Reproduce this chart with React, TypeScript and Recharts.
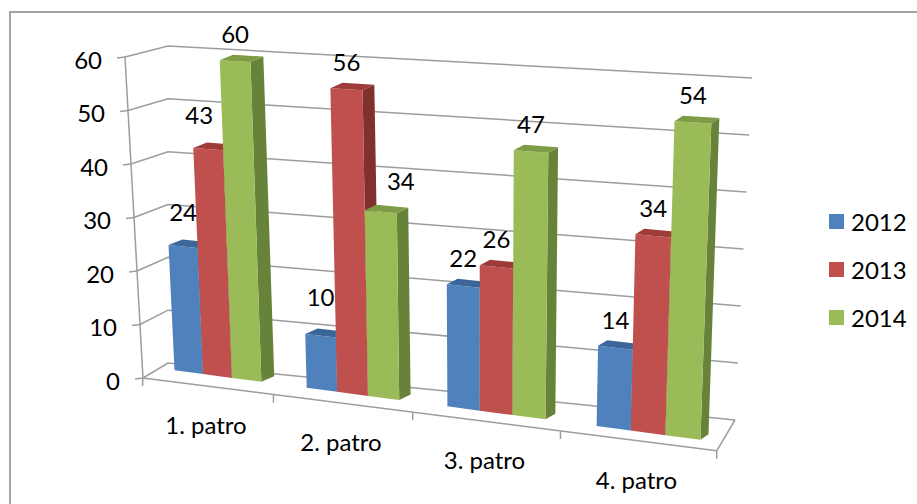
import { BarChart, Bar, XAxis, YAxis, CartesianGrid, LabelList } from 'recharts'

// floors and yearly counts
const floors = ['1. patro', '2. patro', '3. patro', '4. patro']
const years = ['2012', '2013', '2014']
const values2012 = [24, 10, 22, 14]
const values2013 = [43, 56, 26, 34]
const values2014 = [60, 34, 47, 54]
const yTicks = [0, 10, 20, 30, 40, 50, 60]

const data = floors.map((name, i) => ({
  name,
  y2012: values2012[i],
  y2013: values2013[i],
  y2014: values2014[i],
}))

const tones = [
  { front: '#4F81BD', top: '#3B6699', side: '#30568A' },
  { front: '#C0504D', top: '#9E3B39', side: '#7F302F' },
  { front: '#9BBB59', top: '#7E9B46', side: '#67833A' },
]

const W = 917
const H = 504
const PLOT_L = 150
const PLOT_R = 710
const PLOT_T = 57
const PLOT_B = 378
const BAND = (PLOT_R - PLOT_L) / floors.length
const C0 = PLOT_L + BAND / 2
const Y_MAX = yTicks[yTicks.length - 1]
const PLAIN_UNIT = (PLOT_B - PLOT_T) / Y_MAX
const GRID = '#9d9d9d'
const FONT = "Lato, 'Open Sans', sans-serif"
const FONT_SIZE = 24

// perspective helpers: flat chart coordinates -> tilted 3D view
const px = (u: number) => {
  const t = (u - C0) / BAND
  return 217 + 135 * t + 4.25 * t * (t - 1)
}
const baseY = (X: number) => 372 + 0.132 * (X - 187)
const unitPx = (X: number) => 5.24 + 0.0012 * (X - 187)
const lift = (X: number, h: number) => (h * unitPx(X)) / PLAIN_UNIT
const lean = (X: number, hh: number) => (X - 480) * hh * 0.000156
const depth = (X: number) => 13 - (X - 250) * 0.011
const DEPTH_Y = -5.5
const frontEdgeY = (X: number) => 378 + 0.127 * (X - 143)

const corner = (u: number, h: number) => {
  const X0 = px(u)
  const B = baseY(X0)
  const hh = lift(X0, h)
  return { X0, B, Xt: X0 + lean(X0, hh), T: B - hh }
}

const pts = (p: number[][]) => p.map((q) => q.join(',')).join(' ')

function makeBox(s: number) {
  const tone = tones[s]
  return (props: any) => {
    const { x, width, height } = props
    const a = corner(x, height)
    const b = corner(x + width, height)
    const da = depth(a.Xt)
    const db = depth(b.X0)
    return (
      <g>
        <polygon
          points={pts([
            [b.X0, b.B],
            [b.Xt, b.T],
            [b.Xt + db, b.T + DEPTH_Y],
            [b.X0 + db, b.B + DEPTH_Y],
          ])}
          fill={tone.side}
        />
        <polygon
          points={pts([
            [a.X0, a.B],
            [b.X0, b.B],
            [b.Xt, b.T],
            [a.Xt, a.T],
          ])}
          fill={tone.front}
        />
        <polygon
          points={pts([
            [a.Xt, a.T],
            [b.Xt, b.T],
            [b.Xt + db, b.T + DEPTH_Y],
            [a.Xt + da, a.T + DEPTH_Y],
          ])}
          fill={tone.top}
        />
      </g>
    )
  }
}

// a few labels sit aside so they clear the neighbouring bars
const labelNudge: Record<string, [number, number]> = {
  '0-0': [0, -7],
  '1-0': [-9, -7],
  '0-1': [0, -11],
  '2-1': [20, -3],
}

function makeLabel(s: number) {
  return (props: any) => {
    const { x, width, height, value, index } = props
    const a = corner(x, height)
    const b = corner(x + width, height)
    const [dx, dy] = labelNudge[`${s}-${index}`] || [0, 0]
    const cx = (a.Xt + b.Xt) / 2 + dx
    const cy = (a.T + b.T) / 2 - 28 + dy
    return (
      <text
        x={cx}
        y={cy}
        textAnchor="middle"
        dominantBaseline="central"
        fontFamily={FONT}
        fontSize={FONT_SIZE}
        fill="#000"
      >
        {value}
      </text>
    )
  }
}

// back wall + left side wall gridline for one value level
function WallLine(props: any) {
  const y = props.y1
  const f = (y - PLOT_T) / (PLOT_B - PLOT_T)
  const fx = 125 + 18 * f
  const by = 46 + 317 * f
  const rx = 752 - 17 * f
  const ry = 78 + 342 * f
  const floorLevel = f > 0.99
  const frontRight = px(PLOT_R) - 10
  return (
    <g>
      <polyline
        points={pts([
          [fx, y],
          [168, by],
          [rx, ry],
        ])}
        fill="none"
        stroke={GRID}
        strokeWidth={1.5}
      />
      {floorLevel && (
        <line
          x1={frontRight}
          y1={frontEdgeY(frontRight)}
          x2={rx}
          y2={ry}
          stroke={GRID}
          strokeWidth={1.5}
        />
      )}
    </g>
  )
}

function ValueTick(props: any) {
  const { y, payload } = props
  const f = (y - PLOT_T) / (PLOT_B - PLOT_T)
  const ax = 125 + 18 * f
  return (
    <g>
      <line x1={ax - 8} y1={y + 1} x2={ax} y2={y} stroke={GRID} strokeWidth={1.5} />
      {payload.value === 0 && (
        <line x1={ax} y1={y} x2={125} y2={PLOT_T} stroke={GRID} strokeWidth={1.5} />
      )}
      <text
        x={ax - 23}
        y={y + 2}
        textAnchor="end"
        dominantBaseline="central"
        fontFamily={FONT}
        fontSize={FONT_SIZE}
        fill="#000"
      >
        {payload.value}
      </text>
    </g>
  )
}

function FloorTick(props: any) {
  const { x, payload } = props
  const i = floors.indexOf(payload.value)
  const cx = px(x) - 11
  const right = px(x + BAND / 2) - 10
  const left = px(PLOT_L) - 10
  const end = px(PLOT_R) - 10
  return (
    <g>
      {i === 0 && (
        <>
          <line
            x1={left}
            y1={frontEdgeY(left)}
            x2={end}
            y2={frontEdgeY(end)}
            stroke={GRID}
            strokeWidth={1.5}
          />
          <line
            x1={left}
            y1={frontEdgeY(left)}
            x2={left}
            y2={frontEdgeY(left) + 8}
            stroke={GRID}
            strokeWidth={1.5}
          />
        </>
      )}
      <line
        x1={right}
        y1={frontEdgeY(right)}
        x2={right}
        y2={frontEdgeY(right) + 8}
        stroke={GRID}
        strokeWidth={1.5}
      />
      <text
        x={cx}
        y={frontEdgeY(cx) + 48}
        textAnchor="middle"
        fontFamily={FONT}
        fontSize={FONT_SIZE}
        fill="#000"
      >
        {payload.value}
      </text>
    </g>
  )
}

const keys = ['y2012', 'y2013', 'y2014']

export default function App() {
  return (
    <div
      style={{
        position: 'absolute',
        left: 0,
        top: 0,
        width: W,
        height: H,
        overflow: 'hidden',
        background: '#fff',
      }}
    >
      <div
        style={{
          position: 'absolute',
          left: 9,
          top: 11,
          width: 1200,
          height: 1200,
          borderLeft: '2px solid #a3a3a3',
          borderTop: '2px solid #a3a3a3',
        }}
      />
      <BarChart
        width={W}
        height={H}
        data={data}
        margin={{ top: PLOT_T, right: W - PLOT_R, left: PLOT_L - 40, bottom: H - PLOT_B - 30 }}
        barSize={31}
        barGap={0}
        style={{ position: 'absolute', left: 0, top: 0 }}
      >
        <CartesianGrid vertical={false} horizontal={(p: any) => <WallLine {...p} />} />
        <XAxis
          dataKey="name"
          height={30}
          interval={0}
          axisLine={false}
          tickLine={false}
          tick={(p: any) => <FloorTick {...p} />}
        />
        <YAxis
          width={40}
          domain={[0, Y_MAX]}
          ticks={yTicks}
          axisLine={false}
          tickLine={false}
          tick={(p: any) => <ValueTick {...p} />}
        />
        {keys.map((k, s) => (
          <Bar key={k} dataKey={k} name={years[s]} fill={tones[s].front} shape={makeBox(s)} isAnimationActive={false}>
            <LabelList dataKey={k} content={makeLabel(s)} />
          </Bar>
        ))}
      </BarChart>
      <div style={{ position: 'absolute', left: 829, top: 197, fontFamily: FONT, fontSize: FONT_SIZE }}>
        {years.map((yr, s) => (
          <div key={yr} style={{ display: 'flex', alignItems: 'center', height: 48 }}>
            <span style={{ width: 15, height: 15, background: tones[s].front, marginRight: 7 }} />
            <span>{yr}</span>
          </div>
        ))}
      </div>
    </div>
  )
}
